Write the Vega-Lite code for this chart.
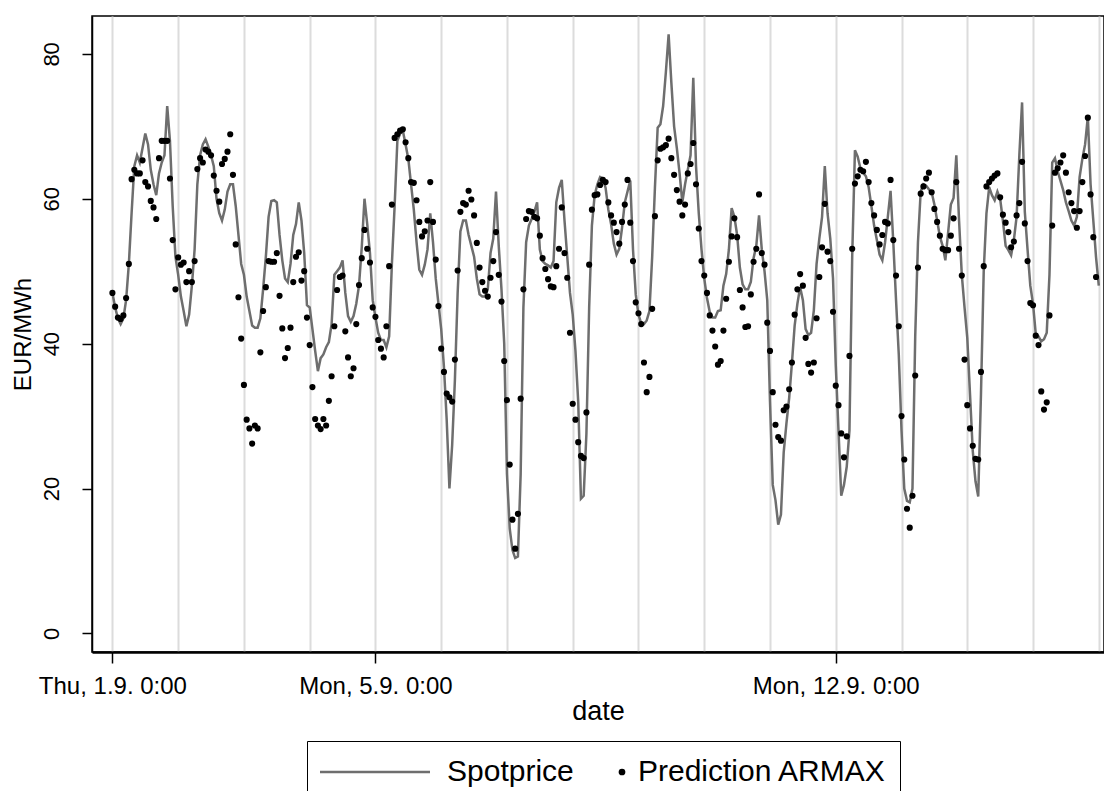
{
"$schema":"https://vega.github.io/schema/vega-lite/v6.json",
"width":1012,"height":636,
"autosize":{"type":"none"},
"padding":{"left":92,"top":16,"right":0,"bottom":139},
"background":"white",
"config":{"view":{"stroke":"black","strokeWidth":1.5},"font":"Liberation Sans"},
"data":{"values":[
{"t":"2011-09-01T00:00","s":47,"p":47},{"t":"2011-09-01T01:00","s":45,"p":45.1},{"t":"2011-09-01T02:00","s":43.5,"p":43.6},{"t":"2011-09-01T03:00","s":42.7,"p":43.4},{"t":"2011-09-01T04:00","s":43.5,"p":43.9},{"t":"2011-09-01T05:00","s":46,"p":46.3},{"t":"2011-09-01T06:00","s":51,"p":51},{"t":"2011-09-01T07:00","s":58,"p":62.7},{"t":"2011-09-01T08:00","s":64.5,"p":64},{"t":"2011-09-01T09:00","s":66,"p":63.5},{"t":"2011-09-01T10:00","s":65,"p":63.5},{"t":"2011-09-01T11:00","s":67,"p":65.3},{"t":"2011-09-01T12:00","s":69,"p":62.3},{"t":"2011-09-01T13:00","s":67.5,"p":61.7},{"t":"2011-09-01T14:00","s":64,"p":59.7},{"t":"2011-09-01T15:00","s":62,"p":58.8},{"t":"2011-09-01T16:00","s":60.5,"p":57.2},{"t":"2011-09-01T17:00","s":63.5,"p":65.6},{"t":"2011-09-01T18:00","s":65,"p":68},{"t":"2011-09-01T19:00","s":66,"p":68},{"t":"2011-09-01T20:00","s":72.8,"p":68},{"t":"2011-09-01T21:00","s":68,"p":62.8},{"t":"2011-09-01T22:00","s":59,"p":54.3},{"t":"2011-09-01T23:00","s":52,"p":47.5},
{"t":"2011-09-02T00:00","s":49.5,"p":51.9},{"t":"2011-09-02T01:00","s":46.5,"p":50.9},{"t":"2011-09-02T02:00","s":44.5,"p":51.2},{"t":"2011-09-02T03:00","s":42.4,"p":48.5},{"t":"2011-09-02T04:00","s":44,"p":50},{"t":"2011-09-02T05:00","s":48,"p":48.5},{"t":"2011-09-02T06:00","s":53,"p":51.4},{"t":"2011-09-02T07:00","s":62,"p":64.1},{"t":"2011-09-02T08:00","s":66,"p":65.6},{"t":"2011-09-02T09:00","s":67.5,"p":65},{"t":"2011-09-02T10:00","s":68.2,"p":66.8},{"t":"2011-09-02T11:00","s":67.2,"p":66.5},{"t":"2011-09-02T12:00","s":66,"p":66},{"t":"2011-09-02T13:00","s":64.5,"p":63.2},{"t":"2011-09-02T14:00","s":60,"p":61.1},{"t":"2011-09-02T15:00","s":58,"p":59.6},{"t":"2011-09-02T16:00","s":57,"p":64.8},{"t":"2011-09-02T17:00","s":58.5,"p":65.5},{"t":"2011-09-02T18:00","s":61,"p":66.5},{"t":"2011-09-02T19:00","s":62,"p":68.9},{"t":"2011-09-02T20:00","s":62,"p":63.3},{"t":"2011-09-02T21:00","s":59,"p":53.7},{"t":"2011-09-02T22:00","s":55,"p":46.4},{"t":"2011-09-02T23:00","s":51,"p":40.7},
{"t":"2011-09-03T00:00","s":49.5,"p":34.3},{"t":"2011-09-03T01:00","s":46.5,"p":29.5},{"t":"2011-09-03T02:00","s":44.5,"p":28.3},{"t":"2011-09-03T03:00","s":42.5,"p":26.2},{"t":"2011-09-03T04:00","s":42.2,"p":28.7},{"t":"2011-09-03T05:00","s":42.2,"p":28.3},{"t":"2011-09-03T06:00","s":43.5,"p":38.8},{"t":"2011-09-03T07:00","s":47.5,"p":44.5},{"t":"2011-09-03T08:00","s":52,"p":47.8},{"t":"2011-09-03T09:00","s":57.5,"p":51.4},{"t":"2011-09-03T10:00","s":59.7,"p":51.3},{"t":"2011-09-03T11:00","s":59.8,"p":51.3},{"t":"2011-09-03T12:00","s":59.5,"p":52.5},{"t":"2011-09-03T13:00","s":55,"p":46.6},{"t":"2011-09-03T14:00","s":51.5,"p":42.1},{"t":"2011-09-03T15:00","s":49,"p":38},{"t":"2011-09-03T16:00","s":48.5,"p":39.4},{"t":"2011-09-03T17:00","s":51,"p":42.2},{"t":"2011-09-03T18:00","s":55,"p":48.5},{"t":"2011-09-03T19:00","s":56.5,"p":52},{"t":"2011-09-03T20:00","s":59.5,"p":52.6},{"t":"2011-09-03T21:00","s":57,"p":48.7},{"t":"2011-09-03T22:00","s":52.5,"p":50},{"t":"2011-09-03T23:00","s":45.3,"p":43.6},
{"t":"2011-09-04T00:00","s":45,"p":39.8},{"t":"2011-09-04T01:00","s":42,"p":34},{"t":"2011-09-04T02:00","s":39,"p":29.6},{"t":"2011-09-04T03:00","s":36.2,"p":28.7},{"t":"2011-09-04T04:00","s":38,"p":28.2},{"t":"2011-09-04T05:00","s":38.5,"p":29.6},{"t":"2011-09-04T06:00","s":39.5,"p":28.7},{"t":"2011-09-04T07:00","s":40.2,"p":32.1},{"t":"2011-09-04T08:00","s":42.7,"p":35.5},{"t":"2011-09-04T09:00","s":49.5,"p":42.4},{"t":"2011-09-04T10:00","s":50,"p":47.4},{"t":"2011-09-04T11:00","s":50.5,"p":49.2},{"t":"2011-09-04T12:00","s":51.5,"p":49.4},{"t":"2011-09-04T13:00","s":47,"p":41.7},{"t":"2011-09-04T14:00","s":43.8,"p":38.1},{"t":"2011-09-04T15:00","s":43,"p":35.5},{"t":"2011-09-04T16:00","s":43.8,"p":36.6},{"t":"2011-09-04T17:00","s":45.5,"p":42.7},{"t":"2011-09-04T18:00","s":48,"p":48.1},{"t":"2011-09-04T19:00","s":53.3,"p":51.8},{"t":"2011-09-04T20:00","s":60,"p":55.7},{"t":"2011-09-04T21:00","s":56.5,"p":53.1},{"t":"2011-09-04T22:00","s":52.5,"p":51.2},{"t":"2011-09-04T23:00","s":46,"p":45},
{"t":"2011-09-05T00:00","s":43.6,"p":43.7},{"t":"2011-09-05T01:00","s":41.5,"p":40.5},{"t":"2011-09-05T02:00","s":40.5,"p":39.3},{"t":"2011-09-05T03:00","s":40.5,"p":38.1},{"t":"2011-09-05T04:00","s":39.5,"p":42.4},{"t":"2011-09-05T05:00","s":41,"p":50.7},{"t":"2011-09-05T06:00","s":51,"p":59.2},{"t":"2011-09-05T07:00","s":59,"p":68.4},{"t":"2011-09-05T08:00","s":68,"p":68.9},{"t":"2011-09-05T09:00","s":69,"p":69.4},{"t":"2011-09-05T10:00","s":69.4,"p":69.6},{"t":"2011-09-05T11:00","s":67.5,"p":67.8},{"t":"2011-09-05T12:00","s":65.5,"p":65.6},{"t":"2011-09-05T13:00","s":62,"p":62.3},{"t":"2011-09-05T14:00","s":58.5,"p":62.2},{"t":"2011-09-05T15:00","s":54,"p":59.8},{"t":"2011-09-05T16:00","s":50.2,"p":56.8},{"t":"2011-09-05T17:00","s":49.5,"p":54.8},{"t":"2011-09-05T18:00","s":50.9,"p":55.5},{"t":"2011-09-05T19:00","s":53,"p":57},{"t":"2011-09-05T20:00","s":58,"p":62.3},{"t":"2011-09-05T21:00","s":54,"p":56.8},{"t":"2011-09-05T22:00","s":49,"p":51.6},{"t":"2011-09-05T23:00","s":45.5,"p":45.2},
{"t":"2011-09-06T00:00","s":42,"p":39.3},{"t":"2011-09-06T01:00","s":36.8,"p":36.1},{"t":"2011-09-06T02:00","s":29.5,"p":33.1},{"t":"2011-09-06T03:00","s":20,"p":32.6},{"t":"2011-09-06T04:00","s":26,"p":32},{"t":"2011-09-06T05:00","s":35,"p":37.8},{"t":"2011-09-06T06:00","s":47,"p":50.1},{"t":"2011-09-06T07:00","s":55.5,"p":58.2},{"t":"2011-09-06T08:00","s":57,"p":59.4},{"t":"2011-09-06T09:00","s":57,"p":59.2},{"t":"2011-09-06T10:00","s":55,"p":61.1},{"t":"2011-09-06T11:00","s":53.5,"p":59.9},{"t":"2011-09-06T12:00","s":52,"p":57.7},{"t":"2011-09-06T13:00","s":49,"p":53.9},{"t":"2011-09-06T14:00","s":46.8,"p":50.5},{"t":"2011-09-06T15:00","s":46.5,"p":48.5},{"t":"2011-09-06T16:00","s":46.5,"p":47.3},{"t":"2011-09-06T17:00","s":47.5,"p":46.5},{"t":"2011-09-06T18:00","s":52.5,"p":49.1},{"t":"2011-09-06T19:00","s":54.5,"p":51.4},{"t":"2011-09-06T20:00","s":61,"p":55.4},{"t":"2011-09-06T21:00","s":53.5,"p":49.5},{"t":"2011-09-06T22:00","s":47.5,"p":45.8},{"t":"2011-09-06T23:00","s":40,"p":37.6},
{"t":"2011-09-07T00:00","s":22,"p":32.2},{"t":"2011-09-07T01:00","s":14.5,"p":23.3},{"t":"2011-09-07T02:00","s":11.5,"p":15.7},{"t":"2011-09-07T03:00","s":10.4,"p":11.7},{"t":"2011-09-07T04:00","s":10.6,"p":16.5},{"t":"2011-09-07T05:00","s":22,"p":32.4},{"t":"2011-09-07T06:00","s":45,"p":47.5},{"t":"2011-09-07T07:00","s":54,"p":57.2},{"t":"2011-09-07T08:00","s":56.3,"p":58.3},{"t":"2011-09-07T09:00","s":57.2,"p":58.2},{"t":"2011-09-07T10:00","s":58.2,"p":57.5},{"t":"2011-09-07T11:00","s":59.5,"p":57.3},{"t":"2011-09-07T12:00","s":53,"p":54.9},{"t":"2011-09-07T13:00","s":51.4,"p":51.8},{"t":"2011-09-07T14:00","s":51,"p":50.3},{"t":"2011-09-07T15:00","s":50.8,"p":48.9},{"t":"2011-09-07T16:00","s":50.5,"p":47.9},{"t":"2011-09-07T17:00","s":51.4,"p":47.8},{"t":"2011-09-07T18:00","s":59.5,"p":50.7},{"t":"2011-09-07T19:00","s":61.5,"p":53.1},{"t":"2011-09-07T20:00","s":62.6,"p":58.8},{"t":"2011-09-07T21:00","s":57,"p":52.5},{"t":"2011-09-07T22:00","s":52,"p":49.1},{"t":"2011-09-07T23:00","s":47,"p":41.5},
{"t":"2011-09-08T00:00","s":44,"p":31.7},{"t":"2011-09-08T01:00","s":39,"p":29.5},{"t":"2011-09-08T02:00","s":32,"p":26.4},{"t":"2011-09-08T03:00","s":18.6,"p":24.5},{"t":"2011-09-08T04:00","s":19,"p":24.2},{"t":"2011-09-08T05:00","s":27.6,"p":30.5},{"t":"2011-09-08T06:00","s":45,"p":50.9},{"t":"2011-09-08T07:00","s":56.3,"p":58.5},{"t":"2011-09-08T08:00","s":60.5,"p":60.5},{"t":"2011-09-08T09:00","s":62,"p":60.6},{"t":"2011-09-08T10:00","s":63,"p":61.9},{"t":"2011-09-08T11:00","s":62.8,"p":62.6},{"t":"2011-09-08T12:00","s":61.5,"p":62.3},{"t":"2011-09-08T13:00","s":58.5,"p":59.5},{"t":"2011-09-08T14:00","s":56.5,"p":57.7},{"t":"2011-09-08T15:00","s":53.8,"p":56.7},{"t":"2011-09-08T16:00","s":52.3,"p":55.4},{"t":"2011-09-08T17:00","s":53.1,"p":53.8},{"t":"2011-09-08T18:00","s":56,"p":56.8},{"t":"2011-09-08T19:00","s":59.5,"p":59.2},{"t":"2011-09-08T20:00","s":61,"p":62.6},{"t":"2011-09-08T21:00","s":62.5,"p":56.7},{"t":"2011-09-08T22:00","s":53,"p":51.4},{"t":"2011-09-08T23:00","s":46.8,"p":45.7},
{"t":"2011-09-09T00:00","s":44,"p":44.2},{"t":"2011-09-09T01:00","s":42.8,"p":42.7},{"t":"2011-09-09T02:00","s":42.7,"p":37.4},{"t":"2011-09-09T03:00","s":43.2,"p":33.3},{"t":"2011-09-09T04:00","s":44.5,"p":35.4},{"t":"2011-09-09T05:00","s":52,"p":44.8},{"t":"2011-09-09T06:00","s":61.5,"p":57.6},{"t":"2011-09-09T07:00","s":69.8,"p":65.3},{"t":"2011-09-09T08:00","s":70.3,"p":66.9},{"t":"2011-09-09T09:00","s":72.8,"p":67.1},{"t":"2011-09-09T10:00","s":77.5,"p":67.4},{"t":"2011-09-09T11:00","s":82.7,"p":68.3},{"t":"2011-09-09T12:00","s":76,"p":65.6},{"t":"2011-09-09T13:00","s":70,"p":63.3},{"t":"2011-09-09T14:00","s":67,"p":61.2},{"t":"2011-09-09T15:00","s":63.5,"p":59.6},{"t":"2011-09-09T16:00","s":59.5,"p":57.7},{"t":"2011-09-09T17:00","s":62,"p":59.2},{"t":"2011-09-09T18:00","s":64,"p":63.5},{"t":"2011-09-09T19:00","s":66,"p":64.8},{"t":"2011-09-09T20:00","s":76.7,"p":67.7},{"t":"2011-09-09T21:00","s":64.5,"p":62},{"t":"2011-09-09T22:00","s":58,"p":55.9},{"t":"2011-09-09T23:00","s":53,"p":51.4},
{"t":"2011-09-10T00:00","s":49,"p":49.4},{"t":"2011-09-10T01:00","s":46.3,"p":47},{"t":"2011-09-10T02:00","s":44.4,"p":43.9},{"t":"2011-09-10T03:00","s":43.6,"p":41.8},{"t":"2011-09-10T04:00","s":43.6,"p":39.6},{"t":"2011-09-10T05:00","s":44.5,"p":37.1},{"t":"2011-09-10T06:00","s":44.6,"p":37.6},{"t":"2011-09-10T07:00","s":48,"p":41.8},{"t":"2011-09-10T08:00","s":49.6,"p":46.2},{"t":"2011-09-10T09:00","s":53,"p":51.3},{"t":"2011-09-10T10:00","s":58.7,"p":54.8},{"t":"2011-09-10T11:00","s":57.5,"p":57.3},{"t":"2011-09-10T12:00","s":55,"p":54.7},{"t":"2011-09-10T13:00","s":50.5,"p":47.4},{"t":"2011-09-10T14:00","s":48.2,"p":45},{"t":"2011-09-10T15:00","s":47.5,"p":42.3},{"t":"2011-09-10T16:00","s":47.5,"p":42.4},{"t":"2011-09-10T17:00","s":48.5,"p":46.8},{"t":"2011-09-10T18:00","s":51.8,"p":51.3},{"t":"2011-09-10T19:00","s":53.5,"p":53.1},{"t":"2011-09-10T20:00","s":57.7,"p":60.6},{"t":"2011-09-10T21:00","s":53,"p":52.5},{"t":"2011-09-10T22:00","s":50,"p":50.9},{"t":"2011-09-10T23:00","s":46,"p":42.9},
{"t":"2011-09-11T00:00","s":32,"p":39},{"t":"2011-09-11T01:00","s":20.5,"p":33.3},{"t":"2011-09-11T02:00","s":18.4,"p":28.8},{"t":"2011-09-11T03:00","s":15,"p":27.1},{"t":"2011-09-11T04:00","s":16.4,"p":26.6},{"t":"2011-09-11T05:00","s":25,"p":30.8},{"t":"2011-09-11T06:00","s":29,"p":31.3},{"t":"2011-09-11T07:00","s":32.5,"p":33.7},{"t":"2011-09-11T08:00","s":37.3,"p":37.4},{"t":"2011-09-11T09:00","s":42.5,"p":44},{"t":"2011-09-11T10:00","s":45.5,"p":47.5},{"t":"2011-09-11T11:00","s":47.8,"p":49.6},{"t":"2011-09-11T12:00","s":46,"p":48},{"t":"2011-09-11T13:00","s":42,"p":40.8},{"t":"2011-09-11T14:00","s":41.2,"p":37.2},{"t":"2011-09-11T15:00","s":41.5,"p":36},{"t":"2011-09-11T16:00","s":44.6,"p":37.4},{"t":"2011-09-11T17:00","s":51,"p":43.5},{"t":"2011-09-11T18:00","s":54.5,"p":49.2},{"t":"2011-09-11T19:00","s":57.5,"p":53.3},{"t":"2011-09-11T20:00","s":64.5,"p":59.3},{"t":"2011-09-11T21:00","s":58,"p":52.7},{"t":"2011-09-11T22:00","s":54.5,"p":51.4},{"t":"2011-09-11T23:00","s":49,"p":44.4},
{"t":"2011-09-12T00:00","s":37,"p":34.2},{"t":"2011-09-12T01:00","s":28,"p":31.5},{"t":"2011-09-12T02:00","s":19,"p":27.6},{"t":"2011-09-12T03:00","s":20.5,"p":24.3},{"t":"2011-09-12T04:00","s":23,"p":27.2},{"t":"2011-09-12T05:00","s":28,"p":38.3},{"t":"2011-09-12T06:00","s":52,"p":53.1},{"t":"2011-09-12T07:00","s":66.7,"p":62.1},{"t":"2011-09-12T08:00","s":65.8,"p":63.1},{"t":"2011-09-12T09:00","s":64.2,"p":64},{"t":"2011-09-12T10:00","s":63.6,"p":63.8},{"t":"2011-09-12T11:00","s":63.1,"p":65.1},{"t":"2011-09-12T12:00","s":61.6,"p":62.3},{"t":"2011-09-12T13:00","s":59,"p":59.4},{"t":"2011-09-12T14:00","s":56.3,"p":57.7},{"t":"2011-09-12T15:00","s":54.3,"p":55.7},{"t":"2011-09-12T16:00","s":52.3,"p":53.7},{"t":"2011-09-12T17:00","s":51.5,"p":55},{"t":"2011-09-12T18:00","s":54,"p":56.8},{"t":"2011-09-12T19:00","s":57.5,"p":56.6},{"t":"2011-09-12T20:00","s":61.1,"p":62.6},{"t":"2011-09-12T21:00","s":54,"p":54.3},{"t":"2011-09-12T22:00","s":46,"p":49.4},{"t":"2011-09-12T23:00","s":38.5,"p":42.4},
{"t":"2011-09-13T00:00","s":28,"p":30},{"t":"2011-09-13T01:00","s":20,"p":24},{"t":"2011-09-13T02:00","s":18.3,"p":17.2},{"t":"2011-09-13T03:00","s":18.1,"p":14.6},{"t":"2011-09-13T04:00","s":20,"p":19},{"t":"2011-09-13T05:00","s":41,"p":35.6},{"t":"2011-09-13T06:00","s":54,"p":50.5},{"t":"2011-09-13T07:00","s":61,"p":60.7},{"t":"2011-09-13T08:00","s":62,"p":61.7},{"t":"2011-09-13T09:00","s":61.8,"p":62.8},{"t":"2011-09-13T10:00","s":61.3,"p":63.6},{"t":"2011-09-13T11:00","s":60.9,"p":60.9},{"t":"2011-09-13T12:00","s":59.2,"p":58.6},{"t":"2011-09-13T13:00","s":57,"p":56.8},{"t":"2011-09-13T14:00","s":54.8,"p":54.9},{"t":"2011-09-13T15:00","s":53.5,"p":53.1},{"t":"2011-09-13T16:00","s":51.5,"p":52.9},{"t":"2011-09-13T17:00","s":55.3,"p":52.9},{"t":"2011-09-13T18:00","s":59.2,"p":54.9},{"t":"2011-09-13T19:00","s":60.1,"p":57.3},{"t":"2011-09-13T20:00","s":66,"p":62.3},{"t":"2011-09-13T21:00","s":57,"p":53.1},{"t":"2011-09-13T22:00","s":49.5,"p":49.4},{"t":"2011-09-13T23:00","s":45,"p":37.8},
{"t":"2011-09-14T00:00","s":40.8,"p":31.5},{"t":"2011-09-14T01:00","s":33,"p":28.3},{"t":"2011-09-14T02:00","s":25.2,"p":25.9},{"t":"2011-09-14T03:00","s":21,"p":24.1},{"t":"2011-09-14T04:00","s":18.9,"p":24},{"t":"2011-09-14T05:00","s":33,"p":36.1},{"t":"2011-09-14T06:00","s":50,"p":50.7},{"t":"2011-09-14T07:00","s":58,"p":61.7},{"t":"2011-09-14T08:00","s":61.6,"p":62.3},{"t":"2011-09-14T09:00","s":60.5,"p":62.8},{"t":"2011-09-14T10:00","s":59.8,"p":63.2},{"t":"2011-09-14T11:00","s":61,"p":63.5},{"t":"2011-09-14T12:00","s":60,"p":60.2},{"t":"2011-09-14T13:00","s":57,"p":57.8},{"t":"2011-09-14T14:00","s":53.5,"p":56.7},{"t":"2011-09-14T15:00","s":52.9,"p":55.4},{"t":"2011-09-14T16:00","s":52.2,"p":53.3},{"t":"2011-09-14T17:00","s":54.3,"p":54.1},{"t":"2011-09-14T18:00","s":57.5,"p":57.7},{"t":"2011-09-14T19:00","s":66,"p":59.4},{"t":"2011-09-14T20:00","s":73.3,"p":65.1},{"t":"2011-09-14T21:00","s":58.2,"p":56.6},{"t":"2011-09-14T22:00","s":53,"p":51.4},{"t":"2011-09-14T23:00","s":48,"p":45.6},
{"t":"2011-09-15T00:00","s":45.5,"p":45.3},{"t":"2011-09-15T01:00","s":41.3,"p":41.1},{"t":"2011-09-15T02:00","s":41,"p":39.8},{"t":"2011-09-15T03:00","s":40.3,"p":33.4},{"t":"2011-09-15T04:00","s":40.6,"p":30.9},{"t":"2011-09-15T05:00","s":41.5,"p":31.9},{"t":"2011-09-15T06:00","s":49.5,"p":43.9},{"t":"2011-09-15T07:00","s":65,"p":56.3},{"t":"2011-09-15T08:00","s":65.6,"p":63.6},{"t":"2011-09-15T09:00","s":63.8,"p":64.2},{"t":"2011-09-15T10:00","s":62.5,"p":65},{"t":"2011-09-15T11:00","s":61.2,"p":66},{"t":"2011-09-15T12:00","s":59.5,"p":63.6},{"t":"2011-09-15T13:00","s":58.3,"p":60.9},{"t":"2011-09-15T14:00","s":57,"p":59.4},{"t":"2011-09-15T15:00","s":56.3,"p":58.3},{"t":"2011-09-15T16:00","s":57.5,"p":56},{"t":"2011-09-15T17:00","s":63,"p":58.3},{"t":"2011-09-15T18:00","s":65.5,"p":62.3},{"t":"2011-09-15T19:00","s":67.5,"p":65.9},{"t":"2011-09-15T20:00","s":71.3,"p":71.2},{"t":"2011-09-15T21:00","s":62,"p":60.6},{"t":"2011-09-15T22:00","s":57,"p":54.7},{"t":"2011-09-15T23:00","s":51.9,"p":49.2},
{"t":"2011-09-16T00:00","s":48,"p":null}
]},
"encoding":{
 "x":{"field":"t","type":"temporal",
  "scale":{"domain":[{"year":2011,"month":8,"date":31,"hours":16,"minutes":33},{"year":2011,"month":9,"date":16,"hours":1,"minutes":54}]},
  "axis":{"values":[{"year":2011,"month":9,"date":1},{"year":2011,"month":9,"date":2},{"year":2011,"month":9,"date":3},{"year":2011,"month":9,"date":4},{"year":2011,"month":9,"date":5},{"year":2011,"month":9,"date":6},{"year":2011,"month":9,"date":7},{"year":2011,"month":9,"date":8},{"year":2011,"month":9,"date":9},{"year":2011,"month":9,"date":10},{"year":2011,"month":9,"date":11},{"year":2011,"month":9,"date":12},{"year":2011,"month":9,"date":13},{"year":2011,"month":9,"date":14},{"year":2011,"month":9,"date":15},{"year":2011,"month":9,"date":16}],
   "labelExpr":"(date(datum.value) == 1 || date(datum.value) == 5 || date(datum.value) == 12) ? timeFormat(datum.value, '%a, %-d.%-m. %-H:%M') : ''",
   "labelOverlap":false,"labelFont":"Liberation Sans","labelFontSize":24,"labelColor":"black","labelPadding":11,
   "tickSize":11,"tickWidth":1.5,"tickColor":"black",
   "tickOpacity":{"condition":{"test":"date(datum.value) == 1 || date(datum.value) == 5 || date(datum.value) == 12","value":1},"value":0},
   "grid":true,"gridColor":"#dcdcdc","gridWidth":2,
   "domainColor":"black","domainWidth":2.5,
   "title":"date","titleFont":"Liberation Sans","titleFontSize":27,"titleFontWeight":"normal","titleColor":"black","titlePadding":0}}
},
"layer":[
 {"mark":{"type":"line","strokeWidth":2.5,"interpolate":"linear"},
  "encoding":{
   "y":{"field":"s","type":"quantitative","scale":{"domain":[-2.57,85.23],"nice":false,"zero":false},
    "axis":{"values":[0,20,40,60,80],"grid":false,"labelAngle":-90,"labelAlign":"center","labelBaseline":"bottom","labelFont":"Liberation Sans","labelFontSize":22,"labelColor":"black","labelPadding":19,"tickSize":10,"tickWidth":1.5,"tickColor":"black","domainColor":"black","domainWidth":1.5,
     "title":"EUR/MWh","titleFont":"Liberation Sans","titleFontSize":24,"titleFontWeight":"normal","titleColor":"black","titlePadding":5}},
   "color":{"datum":"Spotprice","type":"nominal",
    "scale":{"domain":["Spotprice","Prediction ARMAX"],"range":["#6e6e6e","#000000"]},
    "legend":{"orient":"none","legendX":215,"legendY":725,"direction":"horizontal","title":null,
     "strokeColor":"black","padding":13,"labelFont":"Liberation Sans","labelFontSize":30,"labelColor":"black","labelLimit":0,"labelOffset":10,"columnPadding":34,
     "symbolType":"stroke","symbolSize":12100,"symbolStrokeWidth":2.5,
     "encode":{
      "symbols":{"update":{
       "shape":{"signal":"datum.value === 'Spotprice' ? 'stroke' : 'circle'"},
       "size":{"signal":"datum.value === 'Spotprice' ? 12100 : 45"},
       "x":{"signal":"datum.value === 'Spotprice' ? 55 : 14"},
       "y":{"value":18},
       "fill":{"signal":"datum.value === 'Spotprice' ? 'transparent' : '#000000'"},
       "stroke":{"signal":"datum.value === 'Spotprice' ? '#6e6e6e' : '#000000'"},
       "strokeWidth":{"signal":"datum.value === 'Spotprice' ? 2.5 : 0"},
       "opacity":{"value":1}}},
      "labels":{"update":{
       "x":{"signal":"datum.value === 'Spotprice' ? 127 : 30"},
       "y":{"value":18}}}}}}
  }},
 {"transform":[{"filter":"isValid(datum.p)"}],
  "mark":{"type":"circle","size":38,"opacity":1},
  "encoding":{
   "y":{"field":"p","type":"quantitative"},
   "color":{"datum":"Prediction ARMAX","type":"nominal"}
  }}
]
}
